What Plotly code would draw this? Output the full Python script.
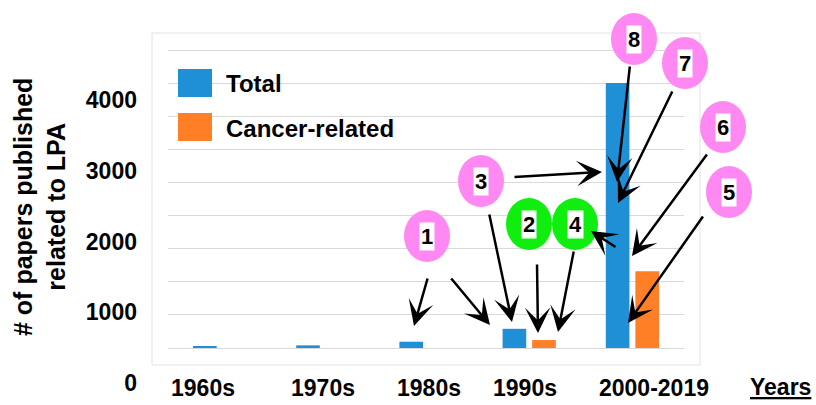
import plotly.graph_objects as go

# ---------------- data ----------------
categories = ["1960s", "1970s", "1980s", "1990s", "2000-2019"]
total_papers = [20, 40, 95, 290, 4000]
cancer_papers = [None, None, None, 120, 1160]
series_names = ["Total", "Cancer-related"]
y_tick_values = [0, 1000, 2000, 3000, 4000]
grid_values = [0, 500, 1000, 1500, 2000, 2500, 3000, 3500, 4000, 4500]

# ---------------- geometry (pixels) ----------------
W, H = 816, 405
L, R, T, B = 168, 684, 30, 392          # plot area
Y0_PX, YTOP_PX, YTOP_VAL = 348, 50, 4500  # baseline & top gridline
PER_PX = YTOP_VAL / (Y0_PX - YTOP_PX)
CAT_W = (R - L) / len(categories)

def dx(px):  # pixel -> category coordinate
    return (px - L) / CAT_W - 0.5

def dy(py):  # pixel -> value coordinate
    return (Y0_PX - py) * PER_PX

def paper_x(px):
    return (px - L) / (R - L)

def paper_y(py):
    return (B - py) / (B - T)

y_range = [dy(B), dy(T)]
# label axis: drawn as in the picture (0 at 383 px, 4000 at 100 px)
lab_per_px = 4000 / (383 - 100)
y2_range = [-(B - 383) * lab_per_px, 4000 + (100 - T) * lab_per_px]
x_label_pos = [dx(203), dx(323), dx(429), dx(525), dx(654)]

BLUE = "#1f8fd6"
ORANGE = "#ff7f27"
PINK = "#ff88f2"
GREEN = "#10ee10"
FONT = "Liberation Sans, Arial, sans-serif"

fig = go.Figure()
fig.add_trace(go.Bar(x=categories, y=total_papers, name=series_names[0],
                     marker=dict(color=BLUE, line=dict(width=0)), legendgroup="a"))
fig.add_trace(go.Bar(x=categories, y=cancer_papers, name=series_names[1],
                     marker=dict(color=ORANGE, line=dict(width=0)), legendgroup="b"))
fig.add_trace(go.Scatter(x=[], y=[], xaxis="x2", yaxis="y2",
                         showlegend=False, hoverinfo="skip"))

# callout circles: (label, center px, color)
circles = [
    ("1", (427, 236), PINK), ("2", (529, 224), GREEN), ("3", (481, 181), PINK),
    ("4", (575, 224), GREEN), ("5", (729, 192), PINK), ("6", (723, 127), PINK),
    ("7", (685, 63), PINK), ("8", (634, 39), PINK),
]
# arrows: (tail px, tip px)
arrows = [
    ((428, 277), (414, 326)), ((450, 277), (490, 325)),
    ((489, 213), (512, 322)), ((513, 177), (602, 172)),
    ((537, 263), (538, 333)), ((574, 250), (558, 332)),
    ((617, 248), (591, 231)), ((630, 65), (617, 182)),
    ((673, 90), (618, 203)), ((708, 153), (632, 256)),
    ((704, 215), (628, 323)),
]

shapes = [dict(type="rect", xref="paper", yref="paper",
               x0=paper_x(152), x1=paper_x(700), y0=paper_y(365), y1=paper_y(33),
               line=dict(color="#e2e2e2", width=1), layer="below")]
# enlarged legend swatches (behind the legend's own symbols)
for col, (top, bot) in zip([BLUE, ORANGE], [(69, 97), (113, 141)]):
    shapes.append(dict(type="rect", xref="paper", yref="paper",
                       x0=paper_x(178), x1=paper_x(212), y0=paper_y(bot), y1=paper_y(top),
                       fillcolor=col, line=dict(width=0), layer="above"))
annotations = []
RX, RY = 23, 26
for lab, (cx, cy), col in circles:
    shapes.append(dict(type="circle", xref="paper", yref="paper",
                       x0=paper_x(cx - RX), x1=paper_x(cx + RX),
                       y0=paper_y(cy + RY), y1=paper_y(cy - RY),
                       fillcolor=col, line=dict(width=0), layer="above"))
    annotations.append(dict(x=paper_x(cx), y=paper_y(cy), xref="paper", yref="paper",
                            text=lab, showarrow=False, bgcolor="white", borderpad=1,
                            xanchor="center", yanchor="middle",
                            font=dict(family=FONT, size=22, color="black", weight="bold")))
for (tx, ty), (hx, hy) in arrows:
    annotations.append(dict(x=paper_x(hx), y=paper_y(hy), xref="paper", yref="paper",
                            text="", showarrow=True, ax=tx - hx, ay=ty - hy,
                            arrowhead=3, arrowsize=1.7, arrowwidth=2.5,
                            arrowcolor="black", standoff=0))
annotations.append(dict(x=paper_x(39), y=paper_y(207), xref="paper", yref="paper",
                        text="# of papers published<br>related to LPA", textangle=-90,
                        showarrow=False, xanchor="center", yanchor="middle",
                        font=dict(family=FONT, size=25, color="black", weight="bold")))
annotations.append(dict(x=paper_x(813), y=paper_y(387), xref="paper", yref="paper",
                        text="<u>Years</u>", showarrow=False,
                        xanchor="right", yanchor="middle",
                        font=dict(family=FONT, size=23, color="black", weight="bold")))

tick_font = dict(family=FONT, size=23, color="black", weight="bold")
fig.update_layout(
    width=W, height=H,
    margin=dict(l=L, r=W - R, t=T, b=H - B, pad=0, autoexpand=False),
    paper_bgcolor="white", plot_bgcolor="white",
    barmode="group", bargap=0.427, bargroupgap=0.2,
    font=dict(family=FONT, color="black"),
    xaxis=dict(type="category", range=[-0.5, len(categories) - 0.5],
               showticklabels=False, showgrid=False, zeroline=False, showline=False),
    yaxis=dict(range=y_range, tickmode="array", tickvals=grid_values,
               showticklabels=False, showgrid=True, gridcolor="#d9d9d9",
               gridwidth=1, zeroline=False, showline=False),
    xaxis2=dict(overlaying="x", anchor="free", position=paper_y(372),
                range=[-0.5, len(categories) - 0.5], tickmode="array",
                tickvals=x_label_pos, ticktext=categories, showgrid=False,
                zeroline=False, showline=False, ticks="", tickfont=tick_font),
    yaxis2=dict(overlaying="y", side="left", range=y2_range, tickmode="array",
                tickvals=y_tick_values, showgrid=False, zeroline=False,
                showline=False, ticks="", ticklabelstandoff=30, tickfont=tick_font),
    legend=dict(x=paper_x(186), y=paper_y(61), xanchor="left", yanchor="top",
                font=dict(family=FONT, size=24, color="black", weight="bold"),
                bgcolor="rgba(0,0,0,0)", tracegroupgap=10, itemwidth=30),
    shapes=shapes, annotations=annotations, showlegend=True,
)

fig.write_html("out.html", config={"displayModeBar": False},
               post_script="document.body.style.margin='0';")
